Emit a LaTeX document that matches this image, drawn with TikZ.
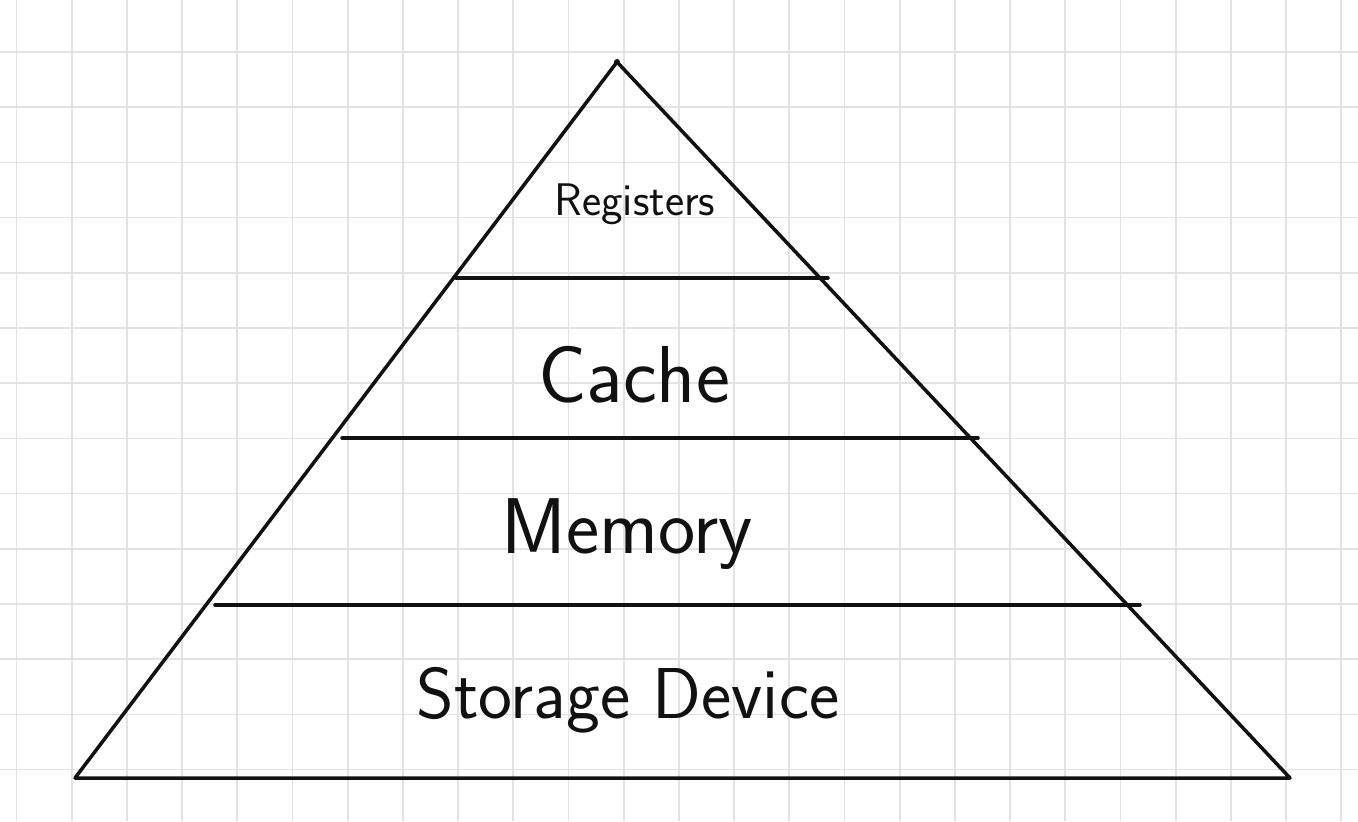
\documentclass[tikz,border=0pt]{standalone}
\usepackage{xcolor}
\definecolor{gridcolor}{HTML}{E2E2E2}
\definecolor{inkcolor}{HTML}{111111}
\usepackage{tikz}
\newcommand{\hwsize}[1]{\sffamily\fontsize{#1}{#1}\selectfont}

\begin{document}
\begin{tikzpicture}[x=0.02cm, y=-0.02cm,
    ink/.style={inkcolor, line width=2pt, line cap=round, line join=round},
    tier/.style={inkcolor, anchor=base, inner sep=0pt}]
  \useasboundingbox (0,0) rectangle (1358,821);
  \fill[white] (0,0) rectangle (1358,821);
  % karo kagit
  \foreach \i in {0,...,24}
    \draw[gridcolor, line width=1pt] (16.5+55.2*\i,0) -- (16.5+55.2*\i,821);
  \foreach \j in {0,...,13}
    \draw[gridcolor, line width=1pt] (0,52+55.2*\j) -- (1358,52+55.2*\j);
  % piramit
  \coordinate (apex) at (617,62);
  \coordinate (bl) at (75,778);
  \coordinate (br) at (1290,778);
  \draw[ink] (apex) -- (bl) -- (br) -- cycle;
  \fill[inkcolor] (apex) circle (3);
  % katmanlar
  \draw[ink] (456,278) -- (828,278);
  \draw[ink] (342,438) -- (978,438);
  \draw[ink] (215,605) -- (1140,605);
  % etiketler
  \node[tier, font=\hwsize{26}] (registers) at (635,215) {Registers};
  \node[tier, font=\hwsize{46}] (cache) at (634,402) {Cache};
  \node[tier, font=\hwsize{45}] (memory) at (627,553) {Memory};
  \node[tier, font=\hwsize{41}] (storage) at (628,718) {Storage Device};
\end{tikzpicture}
\end{document}
